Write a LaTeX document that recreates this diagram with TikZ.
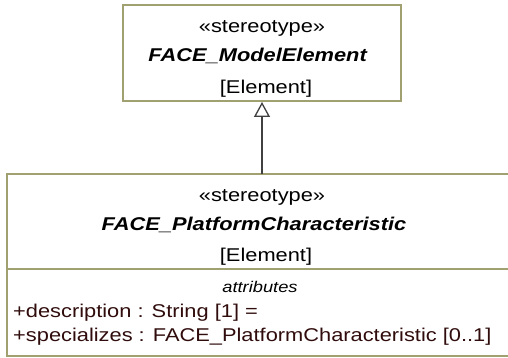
\documentclass[tikz,border=0pt]{standalone}
\usepackage{fontspec}
\usepackage{graphicx}
\setmainfont{Liberation Sans}
\usetikzlibrary{arrows.meta}
\definecolor{olive}{RGB}{160,160,112}
\definecolor{conn}{RGB}{64,64,64}
\definecolor{attr}{RGB}{48,12,12}
\newcommand{\hs}[1]{\scalebox{1.18}[1]{#1}}
\tikzset{
  umlbox/.style={draw=olive, line width=2pt, fill=white, inner sep=0pt},
  lbl/.style={anchor=base, inner sep=0pt, font=\fontsize{18.5}{20}\selectfont},
  attrlbl/.style={anchor=base west, inner sep=0pt, text=attr, font=\fontsize{18.5}{20}\selectfont},
  gen/.style={draw=conn, line width=1.6pt, -{Triangle[open, length=15pt, width=16pt, line width=1.3pt]}}
}
\begin{document}
\begin{tikzpicture}[x=1pt, y=-1pt]
\useasboundingbox (0,0) rectangle (508,358);
\clip (0,0) rectangle (508,358);
% boxes
\node[umlbox, minimum width=278pt, minimum height=96pt] (top) at (262,53) {};
\node[umlbox, minimum width=510pt, minimum height=182pt] (bot) at (262,265) {};
\coordinate (divl) at (7,269);
\coordinate (divr) at (517,269);
\draw[draw=olive, line width=2pt] (divl) -- (divr);
% connector
\coordinate (cstart) at (262,174);
\draw[gen] (cstart) -- (262,102) coordinate (ctip);
% top texts
\node[lbl] (t1) at (262,33) {\hs{«stereotype»}};
\node[lbl] (t2) at (258,62) {\hs{\textbf{\textit{FACE\_ModelElement}}}};
\node[lbl] (t3) at (266,94) {\hs{[Element]}};
% bottom texts
\node[lbl] (b1) at (262,201) {\hs{«stereotype»}};
\node[lbl] (b2) at (254,230) {\hs{\textbf{\textit{FACE\_PlatformCharacteristic}}}};
\node[lbl] (b3) at (266,261) {\hs{[Element]}};
\node[lbl, font=\fontsize{15.5}{17}\selectfont\itshape] (b4) at (260,292) {\hs{attributes}};
\node[attrlbl] (b5) at (13,317) {\hs{+description : String [1] =}};
\node[attrlbl] (b6) at (13,341) {\hs{+specializes : FACE\_PlatformCharacteristic [0..1]}};
\end{tikzpicture}
\end{document}
